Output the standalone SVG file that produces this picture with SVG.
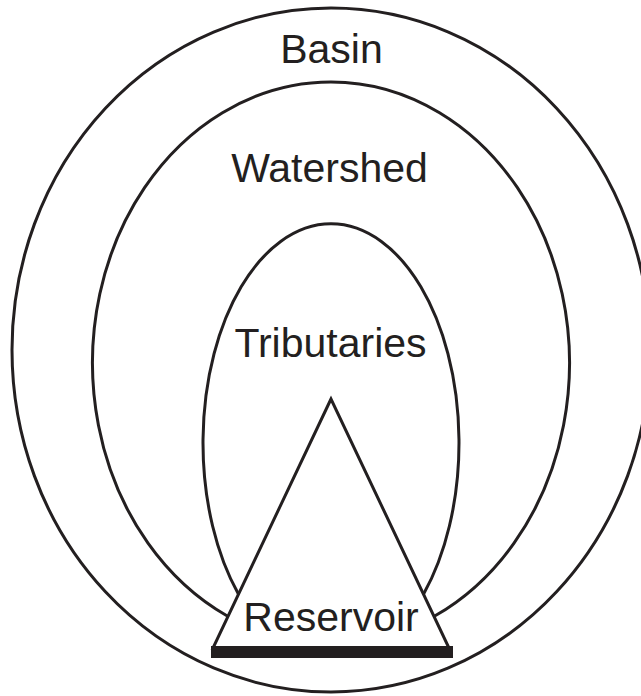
<svg xmlns="http://www.w3.org/2000/svg" width="641" height="696" viewBox="0 0 641 696">
  <style>
    .ln { fill: none; stroke: #231f20; stroke-width: 3; }
    .lbl { font-family: "Liberation Sans", Arial, sans-serif; font-size: 41px; fill: #231f20; text-anchor: middle; }
  </style>
  <rect width="641" height="696" fill="#ffffff"/>
  <g id="basin">
    <ellipse class="ln" cx="331" cy="350" rx="319" ry="342"/>
    <text class="lbl" x="331.5" y="63">Basin</text>
  </g>
  <g id="watershed">
    <path class="ln" d="M 227.3 616 A 238.5 281 0 1 1 434.7 616"/>
    <text class="lbl" x="329.5" y="182">Watershed</text>
  </g>
  <g id="tributaries">
    <path class="ln" d="M 238.5 594.2 A 128 219 0 1 1 423.5 594.2"/>
    <text class="lbl" x="330.5" y="357">Tributaries</text>
  </g>
  <g id="reservoir">
    <polygon class="ln" points="331,399 213,648 449,648" style="fill:#ffffff"/>
    <rect x="211" y="646" width="242" height="12" fill="#231f20"/>
    <text class="lbl" x="331" y="631">Reservoir</text>
  </g>
  <g id="connectors"/>
</svg>
